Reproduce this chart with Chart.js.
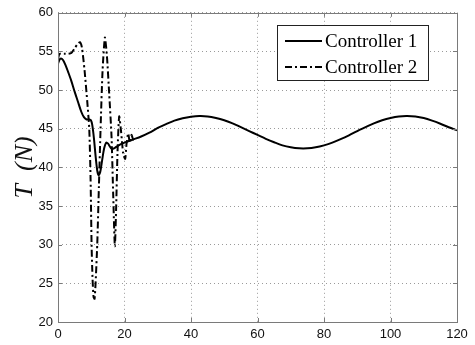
<!DOCTYPE html>
<html>
<head>
<meta charset="utf-8">
<script src="https://cdn.jsdelivr.net/npm/chart.js@4"></script>
<style>
  html, body { margin: 0; padding: 0; background: #fff; }
  #wrap { width: 475px; height: 345px; }
</style>
</head>
<body>
<div id="wrap"><canvas id="myChart" width="475" height="345"></canvas></div>
<script>
// Controller 1 (solid)
var t1 = [0, 0.4, 0.9, 1.5, 2.2, 3, 4, 5, 6, 7, 7.8, 8.6, 9.4, 9.9, 10.3, 10.8, 11.3, 11.8, 12.2, 12.7,
  13.3, 13.9, 14.5, 15, 15.6, 16.2, 17, 18, 20, 22.5, 25, 27.5, 30, 32.5, 35, 37.5, 40, 42.5, 45, 47.5,
  50, 52.5, 55, 57.5, 60, 62.5, 65, 67.5, 70, 72.5, 75, 77.5, 80, 82.5, 85, 87.5, 90, 92.5, 95, 97.5,
  100, 102.5, 105, 107.5, 110, 112.5, 115, 117.5, 120];
var T1 = [53.4, 53.9, 54.1, 53.9, 53.3, 52.4, 51.2, 49.8, 48.5, 47.2, 46.5, 46.2, 46.2, 46.1, 45.5, 43.8, 41.5, 39.6, 39.0, 39.4,
  41.0, 42.5, 43.2, 43.1, 42.7, 42.4, 42.5, 42.8, 43.2, 43.6, 44.0, 44.5, 45.1, 45.6, 46.05, 46.35, 46.55, 46.65, 46.6, 46.4,
  46.1, 45.7, 45.2, 44.7, 44.2, 43.7, 43.25, 42.85, 42.6, 42.47, 42.47, 42.6, 42.85, 43.2, 43.65, 44.15, 44.7, 45.2, 45.7, 46.1,
  46.4, 46.6, 46.65, 46.58, 46.38, 46.05, 45.65, 45.2, 44.8];

// Controller 2 (dash-dot)
var t2 = [0, 0.4, 1, 2, 3, 4, 5, 5.8, 6.6, 7.2, 8, 8.8, 9.4, 9.8, 10.1, 10.4, 10.7, 11.0, 11.3, 11.8,
  12.3, 12.8, 13.4, 14.1, 14.7, 15.4, 16.1, 16.6, 17.1, 17.5, 17.9, 18.4, 19.0, 19.6, 20.2, 20.6, 21.1, 21.6, 22.1, 22.6, 23.0];
var T2 = [54.0, 54.7, 54.7, 54.7, 54.7, 54.8, 55.4, 55.9, 56.2, 55.5, 52.5, 48.5, 45.0, 38.5, 30.0, 25.5, 23.2, 23.0, 25.0, 30.0,
  37.5, 45.0, 52.5, 56.8, 54.5, 49.5, 44.0, 36.5, 29.8, 35.0, 42.0, 46.6, 44.5, 41.8, 41.1, 43.0, 44.4, 43.2, 44.2, 43.6, 43.8];

var xTicks = [0, 20, 40, 60, 80, 100, 120];
var yTicks = [20, 25, 30, 35, 40, 45, 50, 55, 60];
var seriesNames = ['Controller 1', 'Controller 2'];

function pts(xs, ys) {
    return xs.map(function (x, i) { return { x: x, y: ys[i] }; });
}

var dashDot = [7, 3, 2, 3];
var boxColor = '#7a7a7a';

// box round the plot, inward ticks and the legend, drawn like the matlab figure
var framePlugin = {
    id: 'frame',
    afterDraw: function (chart) {
        var c = chart.ctx;
        var a = chart.chartArea;
        var xs = chart.scales.x, ys = chart.scales.y;
        c.save();
        c.strokeStyle = boxColor;
        c.lineWidth = 1;
        c.setLineDash([]);
        c.strokeRect(Math.round(a.left) + 0.5, Math.round(a.top) + 0.5,
            Math.round(a.right - a.left), Math.round(a.bottom - a.top));
        c.beginPath();
        xTicks.forEach(function (v) {
            var px = Math.round(xs.getPixelForValue(v)) + 0.5;
            c.moveTo(px, a.bottom); c.lineTo(px, a.bottom - 4);
            c.moveTo(px, a.top); c.lineTo(px, a.top + 4);
        });
        yTicks.forEach(function (v) {
            var py = Math.round(ys.getPixelForValue(v)) + 0.5;
            c.moveTo(a.left, py); c.lineTo(a.left + 4, py);
            c.moveTo(a.right, py); c.lineTo(a.right - 4, py);
        });
        c.stroke();

        // legend
        var lx = 277.5, ly = 25.5, lw = 151, lh = 55;
        c.fillStyle = '#fff';
        c.fillRect(lx, ly, lw, lh);
        c.strokeStyle = '#222';
        c.strokeRect(lx, ly, lw, lh);
        c.font = '19px "Liberation Serif"';
        c.textBaseline = 'middle';
        c.fillStyle = '#000';
        c.strokeStyle = '#000';
        var rows = [41, 67];
        for (var i = 0; i < 2; i++) {
            c.beginPath();
            c.lineWidth = 2;
            c.setLineDash(i === 0 ? [] : dashDot);
            c.moveTo(285, rows[i]);
            c.lineTo(322, rows[i]);
            c.stroke();
            c.fillText(seriesNames[i], 325, rows[i] + 1);
        }
        c.restore();
    }
};

var ctx = document.getElementById('myChart').getContext('2d');

var myChart = new Chart(ctx, {
    type: 'line',
    data: {
        datasets: [
            {
                label: seriesNames[0],
                data: pts(t1, T1),
                borderColor: '#000',
                borderWidth: 2,
                pointRadius: 0,
                tension: 0.3,
                fill: false
            },
            {
                label: seriesNames[1],
                data: pts(t2, T2),
                borderColor: '#000',
                borderWidth: 2,
                borderDash: dashDot,
                pointRadius: 0,
                tension: 0.2,
                fill: false
            }
        ]
    },
    options: {
        responsive: false,
        animation: false,
        devicePixelRatio: 1,
        layout: { padding: { top: 8, right: 18, left: 0, bottom: 0 } },
        plugins: {
            legend: { display: false },
            tooltip: { enabled: false }
        },
        scales: {
            x: {
                type: 'linear',
                min: 0,
                max: 120,
                afterBuildTicks: function (s) { s.ticks = xTicks.map(function (v) { return { value: v }; }); },
                afterFit: function (s) { s.height = 23; },
                grid: { color: '#9a9a9a', lineWidth: 1, drawTicks: false, borderDash: [1, 3] },
                border: { display: false, dash: [1, 3] },
                ticks: {
                    color: '#111',
                    padding: 5,
                    maxRotation: 0,
                    font: { family: 'Liberation Sans, Arial', size: 13 }
                }
            },
            y: {
                min: 20,
                max: 60,
                afterBuildTicks: function (s) { s.ticks = yTicks.map(function (v) { return { value: v }; }); },
                afterFit: function (s) { s.width = 58; },
                grid: { color: '#9a9a9a', lineWidth: 1, drawTicks: false, borderDash: [1, 3] },
                border: { display: false, dash: [1, 3] },
                ticks: {
                    color: '#111',
                    padding: 5,
                    font: { family: 'Liberation Sans, Arial', size: 13 }
                },
                title: {
                    display: true,
                    text: 'T  (N)',
                    color: '#111',
                    padding: { top: 10, bottom: 0 },
                    font: { family: 'Liberation Serif', size: 26, style: 'italic' }
                }
            }
        }
    },
    plugins: [framePlugin]
});
</script>
</body>
</html>
